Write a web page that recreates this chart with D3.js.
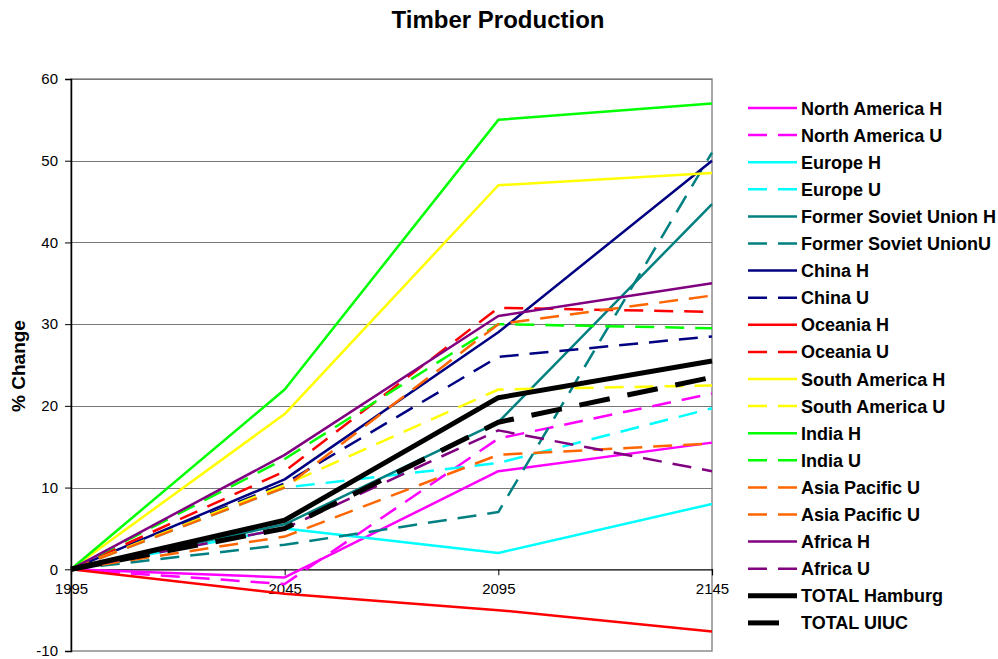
<!DOCTYPE html>
<html>
<head>
<meta charset="utf-8">
<script src="https://cdn.jsdelivr.net/npm/d3@7"></script>
<style>
  html, body { margin: 0; padding: 0; background: #fff; }
  svg { display: block; font-family: Arial, "Liberation Sans", sans-serif; }
</style>
</head>
<body>
<svg id="chart" width="998" height="659"></svg>
<script>
// Category axis and tick values
const years = ["1995", "2045", "2095", "2145"];
const yTicks = [-10, 0, 10, 20, 30, 40, 50, 60];

// Series names in legend / drawing order
const seriesNames = [
  "North America H", "North America U", "Europe H", "Europe U",
  "Former Soviet Union H", "Former Soviet UnionU", "China H", "China U",
  "Oceania H", "Oceania U", "South America H", "South America U",
  "India H", "India U", "Asia Pacific U", "Asia Pacific U",
  "Africa H", "Africa U", "TOTAL Hamburg", "TOTAL UIUC"
];

// % change from 1995, one value per year
const northAmericaH   = [0, -1.0, 12, 15.5];
const northAmericaU   = [0, -1.8, 16, 21.5];
const europeH         = [0, 5.0, 2, 8];
const europeU         = [0, 10.0, 13, 19.7];
const formerSovietH   = [0, 5.5, 18, 44.7];
const formerSovietU   = [0, 3.0, 7, 51];
const chinaH          = [0, 11.0, 29, 50];
const chinaU          = [0, 10.5, 26, 28.5];
const oceaniaH        = [0, -3.0, -5, -7.6];
const oceaniaU        = [0, 12.0, 32, 31.5];
const southAmericaH   = [0, 19.0, 47, 48.5];
const southAmericaU   = [0, 10.3, 22, 22.5];
const indiaH          = [0, 22.0, 55, 57];
const indiaU          = [0, 13.5, 30, 29.5];
const asiaPacificU1   = [0, 10.0, 30, 33.5];
const asiaPacificU2   = [0, 4.0, 14, 15.4];
const africaH         = [0, 14.0, 31, 35];
const africaU         = [0, 5.0, 17, 12];
const totalHamburg    = [0, 6.0, 21, 25.5];
const totalUIUC       = [0, 5.0, 18, 23.5];

const seriesValues = [
  northAmericaH, northAmericaU, europeH, europeU,
  formerSovietH, formerSovietU, chinaH, chinaU,
  oceaniaH, oceaniaU, southAmericaH, southAmericaU,
  indiaH, indiaU, asiaPacificU1, asiaPacificU2,
  africaH, africaU, totalHamburg, totalUIUC
];

// Line styles: colour, width, dashed or not
const seriesColors = [
  "#ff00ff", "#ff00ff", "#00ffff", "#00ffff",
  "#008080", "#008080", "#000080", "#000080",
  "#ff0000", "#ff0000", "#ffff00", "#ffff00",
  "#00ff00", "#00ff00", "#ff6600", "#ff6600",
  "#800080", "#800080", "#000000", "#000000"
];
const seriesDashed = seriesNames.map((n, i) => i === 18 ? false : (i === 14 || i === 15 || i % 2 === 1));
const seriesWidths = seriesNames.map((n, i) => i >= 18 ? 5 : 2.5);

const series = seriesNames.map((name, i) => ({
  name,
  values: seriesValues[i],
  color: seriesColors[i],
  dashed: seriesDashed[i],
  width: seriesWidths[i]
}));

const svg = d3.select("#chart");
const plot = { left: 71, right: 712, top: 79, bottom: 651 };

const x = d3.scalePoint().domain(years).range([plot.left, plot.right]);
const y = d3.scaleLinear().domain([-10, 60]).range([plot.bottom, plot.top]);

const dashFor = s => s.dashed ? (s.width > 3 ? "31,18" : "19,11") : null;

// Title
svg.append("text")
  .attr("x", 498).attr("y", 28)
  .attr("text-anchor", "middle")
  .attr("font-size", 24).attr("font-weight", "bold")
  .text("Timber Production");

// Y axis title
svg.append("text")
  .attr("transform", `translate(25,${(plot.top + plot.bottom) / 2 + 1}) rotate(-90)`)
  .attr("text-anchor", "middle")
  .attr("font-size", 19).attr("font-weight", "bold")
  .text("% Change");

// Plot frame and gridlines
svg.append("rect")
  .attr("x", plot.left).attr("y", plot.top)
  .attr("width", plot.right - plot.left).attr("height", plot.bottom - plot.top)
  .attr("fill", "none").attr("stroke", "#8c8c8c").attr("stroke-width", 1.5);

svg.append("g")
  .selectAll("line")
  .data(yTicks.filter(t => t > 0))
  .join("line")
  .attr("x1", plot.left).attr("x2", plot.right)
  .attr("y1", d => Math.round(y(d)) + 0.5).attr("y2", d => Math.round(y(d)) + 0.5)
  .attr("stroke", "#777").attr("stroke-width", 1.2);

// Y axis (plain hyphen for negatives)
const yAxis = svg.append("g")
  .attr("transform", `translate(${plot.left},0)`)
  .call(d3.axisLeft(y).tickValues(yTicks).tickSize(6).tickPadding(7).tickFormat(d => String(d)));
yAxis.select(".domain").attr("stroke", "#000").attr("stroke-width", 1.5);
yAxis.selectAll(".tick line").attr("stroke", "#000");
yAxis.selectAll("text").attr("font-size", 15).attr("fill", "#000")
  .attr("font-family", "Arial, 'Liberation Sans', sans-serif");

// X axis drawn at zero
const xAxis = svg.append("g")
  .attr("transform", `translate(0,${y(0)})`)
  .call(d3.axisBottom(x).tickSize(6).tickPadding(8));
xAxis.select(".domain").attr("stroke", "#000").attr("stroke-width", 1.2);
xAxis.selectAll(".tick line").attr("stroke", "#000");
xAxis.selectAll("text").attr("font-size", 15).attr("fill", "#000")
  .attr("font-family", "Arial, 'Liberation Sans', sans-serif");

// Series lines
const line = d3.line()
  .x((d, i) => x(years[i]))
  .y(d => y(d));

svg.append("g")
  .selectAll("path")
  .data(series)
  .join("path")
  .attr("d", s => line(s.values))
  .attr("fill", "none")
  .attr("stroke", s => s.color)
  .attr("stroke-width", s => s.width)
  .attr("stroke-dasharray", dashFor)
  .attr("stroke-linejoin", "round")
  .attr("stroke-linecap", "butt");

// Legend
const legend = svg.append("g").attr("transform", "translate(748,108)");
const rowH = 27.1;
const rows = legend.selectAll("g")
  .data(series)
  .join("g")
  .attr("transform", (s, i) => `translate(0,${i * rowH})`);
rows.append("line")
  .attr("x1", 0).attr("x2", 49).attr("y1", 0).attr("y2", 0)
  .attr("stroke", s => s.color)
  .attr("stroke-width", s => s.width)
  .attr("stroke-dasharray", dashFor);
rows.append("text")
  .attr("x", 53).attr("y", 6.5)
  .attr("font-size", 18).attr("font-weight", "bold")
  .text(s => s.name);
</script>
</body>
</html>
